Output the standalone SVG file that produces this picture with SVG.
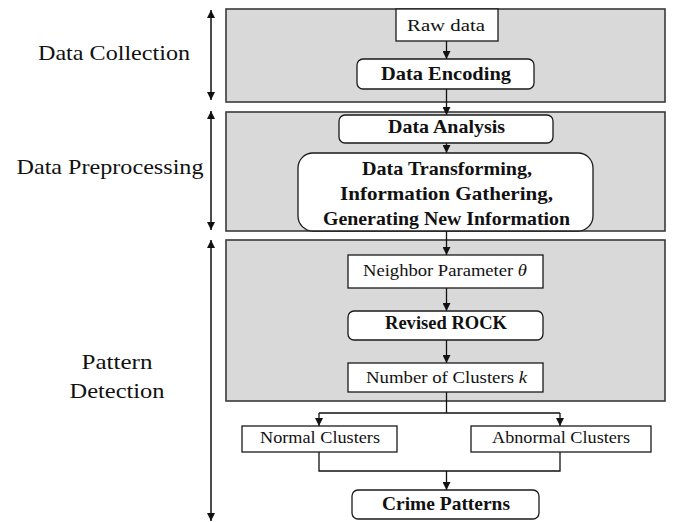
<svg xmlns="http://www.w3.org/2000/svg" width="673" height="522" viewBox="0 0 673 522">
<style>
  .panel { fill: #d9d9d9; stroke: #3a3a3a; stroke-width: 1.6; }
  .box { fill: #ffffff; stroke: #1a1a1a; stroke-width: 1.3; }
  text { font-family: 'Liberation Serif', 'DejaVu Serif', 'Times New Roman', serif; fill: #111; text-anchor: middle; }
  .r { font-size: 17px; }
  .b { font-size: 19px; font-weight: bold; }
  .h { font-size: 22px; }
  .ln { fill: none; stroke: #111; stroke-width: 1.3; }
  .side { fill: none; stroke: #111; stroke-width: 1.5; }
</style>
<defs>
  <marker id="ah" viewBox="0 0 8 8" refX="8" refY="4" markerWidth="8" markerHeight="8" markerUnits="userSpaceOnUse" orient="auto">
    <path d="M0,0 L8,4 L0,8 Z" fill="#111"/>
  </marker>
  <marker id="ahs" viewBox="0 0 8 8" refX="8" refY="4" markerWidth="8" markerHeight="8" markerUnits="userSpaceOnUse" orient="auto-start-reverse">
    <path d="M0,0 L8,4 L0,8 Z" fill="#111"/>
  </marker>
</defs>

<g id="stage-labels" font-family="Liberation Serif, serif">
  <g id="label-collection">
    <line class="side" x1="211" y1="10" x2="211" y2="100" marker-start="url(#ahs)" marker-end="url(#ahs)"/>
    <text class="h" x="114" y="60" textLength="152" lengthAdjust="spacingAndGlyphs">Data Collection</text>
  </g>
  <g id="label-preprocessing">
    <line class="side" x1="211" y1="111" x2="211" y2="230" marker-start="url(#ahs)" marker-end="url(#ahs)"/>
    <text class="h" x="110" y="174" textLength="187" lengthAdjust="spacingAndGlyphs">Data Preprocessing</text>
  </g>
  <g id="label-pattern">
    <line class="side" x1="211" y1="240" x2="211" y2="521" marker-start="url(#ahs)" marker-end="url(#ahs)"/>
    <text class="h" x="117" y="369" textLength="71" lengthAdjust="spacingAndGlyphs">Pattern</text>
    <text class="h" x="117" y="398" textLength="95" lengthAdjust="spacingAndGlyphs">Detection</text>
  </g>
</g>

<g id="panels">
  <rect id="panel-collection" class="panel" x="226" y="9" width="439" height="93"/>
  <rect id="panel-preprocessing" class="panel" x="226" y="112" width="439" height="119"/>
  <rect id="panel-pattern" class="panel" x="226" y="240" width="439" height="161"/>
</g>

<g id="connectors">
  <line class="ln" x1="446.5" y1="41" x2="446.5" y2="59" marker-end="url(#ah)"/>
  <line class="ln" x1="446.5" y1="89" x2="446.5" y2="115" marker-end="url(#ah)"/>
  <line class="ln" x1="446.5" y1="143" x2="446.5" y2="153" marker-end="url(#ah)"/>
  <line class="ln" x1="446.5" y1="231" x2="446.5" y2="255" marker-end="url(#ah)"/>
  <line class="ln" x1="446.5" y1="288" x2="446.5" y2="311" marker-end="url(#ah)"/>
  <line class="ln" x1="446.5" y1="340" x2="446.5" y2="363" marker-end="url(#ah)"/>
  <polyline class="ln" points="446.5,392 446.5,413"/>
  <polyline class="ln" points="319,413 560,413"/>
  <line class="ln" x1="319" y1="413" x2="319" y2="426" marker-end="url(#ah)"/>
  <line class="ln" x1="560" y1="413" x2="560" y2="426" marker-end="url(#ah)"/>
  <polyline class="ln" points="319,452 319,471 560,471 560,452"/>
  <line class="ln" x1="446.5" y1="471" x2="446.5" y2="490" marker-end="url(#ah)"/>
</g>

<g id="raw-data">
  <rect class="box" x="396" y="9" width="102" height="32"/>
  <text class="r" x="446" y="31" textLength="78" lengthAdjust="spacingAndGlyphs">Raw data</text>
</g>
<g id="data-encoding">
  <rect class="box" x="357" y="59" width="177" height="30" rx="6"/>
  <text class="b" x="446" y="80" textLength="130" lengthAdjust="spacingAndGlyphs">Data Encoding</text>
</g>
<g id="data-analysis">
  <rect class="box" x="339" y="115" width="214" height="28" rx="6"/>
  <text class="b" x="446.5" y="133" textLength="117" lengthAdjust="spacingAndGlyphs">Data Analysis</text>
</g>
<g id="data-transforming">
  <rect class="box" x="298" y="153" width="295" height="78" rx="15"/>
  <text class="b" x="447" y="175" textLength="170" lengthAdjust="spacingAndGlyphs">Data Transforming,</text>
  <text class="b" x="446.5" y="200" textLength="213" lengthAdjust="spacingAndGlyphs">Information Gathering,</text>
  <text class="b" x="446.5" y="225" textLength="247" lengthAdjust="spacingAndGlyphs">Generating New Information</text>
</g>
<g id="neighbor-parameter">
  <rect class="box" x="348" y="255" width="195" height="33"/>
  <text class="r" x="445" y="276" textLength="164" lengthAdjust="spacingAndGlyphs">Neighbor Parameter <tspan font-style="italic">θ</tspan></text>
</g>
<g id="revised-rock">
  <rect class="box" x="348" y="311" width="195" height="29" rx="6"/>
  <text class="b" x="446" y="329" textLength="122" lengthAdjust="spacingAndGlyphs">Revised ROCK</text>
</g>
<g id="number-of-clusters">
  <rect class="box" x="348" y="363" width="195" height="29"/>
  <text class="r" x="446.5" y="383" textLength="161" lengthAdjust="spacingAndGlyphs">Number of Clusters  <tspan font-style="italic">k</tspan></text>
</g>
<g id="normal-clusters">
  <rect class="box" x="242" y="426" width="155" height="26"/>
  <text class="r" x="320" y="443" textLength="120" lengthAdjust="spacingAndGlyphs">Normal Clusters</text>
</g>
<g id="abnormal-clusters">
  <rect class="box" x="471" y="426" width="180" height="26"/>
  <text class="r" x="561" y="443" textLength="138" lengthAdjust="spacingAndGlyphs">Abnormal Clusters</text>
</g>
<g id="crime-patterns">
  <rect class="box" x="352" y="490" width="187" height="29" rx="6"/>
  <text class="b" x="446" y="510" textLength="128" lengthAdjust="spacingAndGlyphs">Crime Patterns</text>
</g>
</svg>
